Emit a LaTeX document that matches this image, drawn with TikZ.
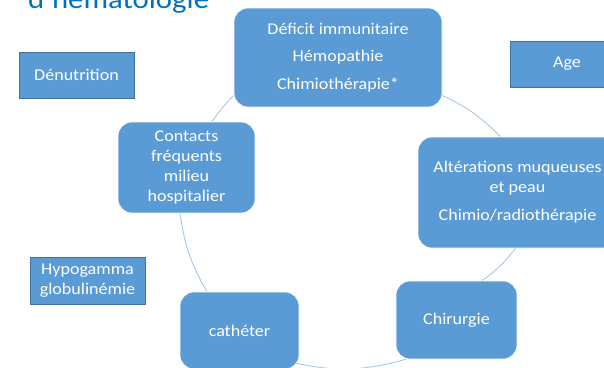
\documentclass[tikz,border=0pt]{standalone}
\usepackage{fontspec}
\setmainfont{Carlito}[FakeStretch=1.1]
\usetikzlibrary{backgrounds,calc}
\definecolor{boxblue}{RGB}{91,155,213}
\definecolor{boxedge}{RGB}{65,113,156}
\definecolor{arcblue}{RGB}{157,195,230}
\definecolor{titleblue}{RGB}{0,112,192}
\begin{document}
\begin{tikzpicture}[x=1pt,y=-1pt,
  boxtext/.style={text=white, align=center, inner sep=0pt,
    font=\fontsize{16.4}{20}\selectfont},
  cyc/.style={boxtext, rounded corners=14pt, fill=boxblue, draw=white, line width=0.6pt},
  fac/.style={boxtext, fill=boxblue, draw=boxedge, line width=0.8pt},
  link/.style={draw=arcblue, line width=0.8pt}]
\useasboundingbox (0,0) rectangle (604,367);
\clip (0,0) rectangle (604,367);

\node[anchor=base west, text=titleblue, inner sep=0pt,
  font=\fontsize{28}{34}\selectfont] (title) at (28,8.5) {d'hématologie};

\node[cyc, minimum width=208pt, minimum height=99pt] (top) at (338,57.5)
  {Déficit immunitaire\\[7.5pt]Hémopathie\\[7.5pt]Chimiothérapie*};
\node[cyc, minimum width=137pt, minimum height=91pt] (contacts) at (186.5,167.5)
  {Contacts\\fréquents\\milieu\\hospitalier};
\node[cyc, minimum width=199pt, minimum height=111pt] (alt) at (517.5,192.5)
  {Altérations muqueuses\\et peau\\[8pt]Chimio/radiothérapie};
\node[cyc, minimum width=121pt, minimum height=78pt] (chir) at (456.5,320)
  {Chirurgie};
\node[cyc, minimum width=119pt, minimum height=77pt] (cath) at (239.5,330.5)
  {cathéter};

\node[fac, minimum width=115pt, minimum height=46pt] (denut) at (76.5,75) {Dénutrition};
\node[fac, minimum width=114pt, minimum height=46pt] (age) at (567,64) {Age};
\node[fac, minimum width=115pt, minimum height=47pt] (hypo) at (87.5,280.5)
  {Hypogamma\\globulinémie};

\begin{scope}[on background layer]
  \clip (0,0) rectangle (604,367);
  \draw[link] (top.200) to[bend right=5] (contacts.61);
  \draw[link] (contacts.262) to[bend right=11] (cath.130);
  \draw[link] ($(cath.south east)+(-8,-7)$) to[bend right=14] ($(chir.south west)+(10,0)$);
  \draw[link] (chir.57) to[bend right=8] (alt.268.5);
  \draw[link] (alt.107.5) to[bend right=10] (top.-20);
\end{scope}
\end{tikzpicture}
\end{document}
